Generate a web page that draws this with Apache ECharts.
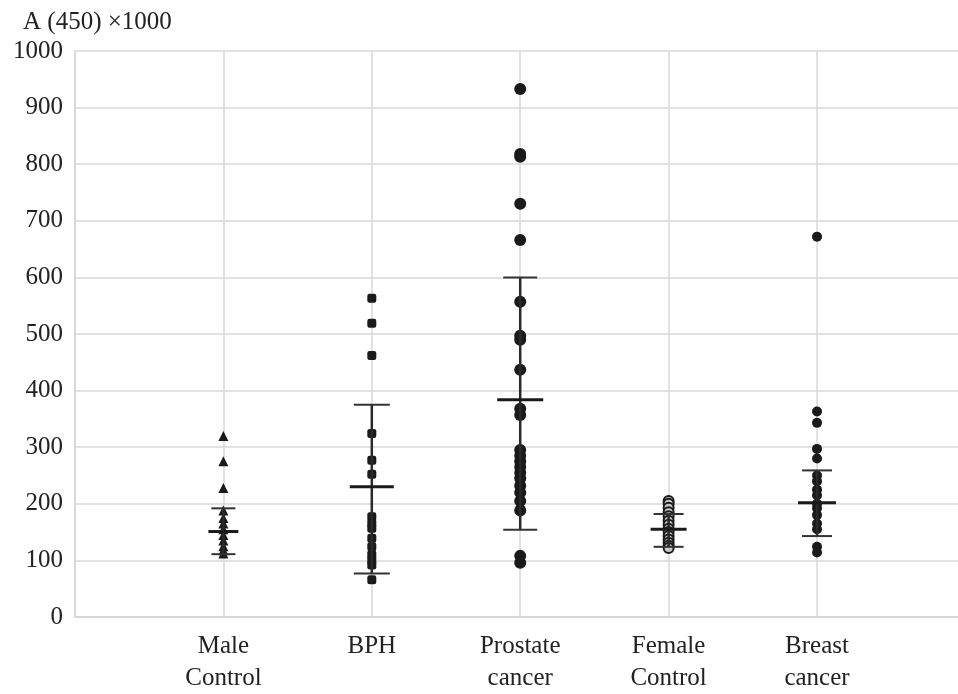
<!DOCTYPE html>
<html>
<head>
<meta charset="utf-8">
<script src="https://cdn.jsdelivr.net/npm/echarts@6/dist/echarts.min.js"></script>
<style>html,body{margin:0;padding:0;background:#fff}#c{width:958px;height:694px}</style>
</head>
<body>
<div id="c"></div>
<script>
// ---- data ----
const categories = ["Male\nControl", "BPH", "Prostate\ncancer", "Female\nControl", "Breast\ncancer"];
const yTicks = [0, 100, 200, 300, 400, 500, 600, 700, 800, 900, 1000];
const maleControl = [320, 275, 228, 188, 175, 165, 155, 145, 135, 125, 118, 112];
const bph = [563, 519, 462, 324, 277, 252, 177, 165, 157, 139, 124, 110, 100, 92, 66];
const prostateCancer = [933, 818, 813, 730, 666, 557, 497, 490, 437, 368, 357, 295, 285, 275, 265, 255, 245, 232, 220, 205, 188, 108, 96];
const femaleControl = [205, 200, 193, 185, 178, 170, 163, 156, 150, 143, 137, 131, 126, 122];
const breastCancer = [672, 363, 343, 297, 280, 250, 240, 225, 215, 200, 192, 180, 165, 155, 124, 114];
const means = [151, 230, 384, 155, 202];
const lows  = [111, 77, 154, 124, 143];
const highs = [192, 375, 600, 182, 259];

// ---- styles ----
const meanHalf = [15, 22, 23, 18, 19];
const capHalf  = [12, 18, 17, 15, 15];
const ink = '#1a1a1a';
const font = '"Liberation Serif", "Times New Roman", serif';
const fs = 25;

function pts(arr, idx) { return arr.map(v => [idx + 1, v]); }

const chart = echarts.init(document.getElementById('c'), null, {renderer: 'canvas'});
chart.setOption({
  animation: false,
  backgroundColor: '#fff',
  title: {
    text: 'A (450) \u00d71000', left: 18, top: 5,
    textStyle: {fontFamily: font, fontSize: fs, fontWeight: 'normal', color: '#222'}
  },
  grid: {left: 75, top: 51, right: 0, bottom: 75, containLabel: false},
  xAxis: {
    type: 'value', min: 0, max: 5.95, interval: 1,
    axisLine: {show: true, lineStyle: {color: '#d4d4d4', width: 1.5}},
    axisTick: {show: false},
    splitLine: {show: true, showMaxLine: false, lineStyle: {color: '#d9d9d9', width: 1.5}},
    axisLabel: {
      fontFamily: font, fontSize: fs, color: '#222', lineHeight: 32, margin: 13,
      showMaxLabel: false,
      formatter: v => (v >= 1 && v <= 5 && Number.isInteger(v)) ? categories[v - 1] : ''
    }
  },
  yAxis: {
    type: 'value', min: yTicks[0], max: yTicks[yTicks.length - 1], interval: 100,
    axisLine: {show: true, lineStyle: {color: '#d4d4d4', width: 1.5}},
    axisTick: {show: false},
    splitLine: {show: true, lineStyle: {color: '#d9d9d9', width: 1.5}},
    axisLabel: {fontFamily: font, fontSize: fs, color: '#222', margin: 12,
      formatter: v => String(v)}
  },
  series: [
    {type: 'scatter', data: pts(maleControl, 0), symbol: 'triangle', symbolSize: 10,
     itemStyle: {color: ink, opacity: 1}, z: 3},
    {type: 'scatter', data: pts(bph, 1), symbol: 'roundRect', symbolSize: 9,
     itemStyle: {color: ink, opacity: 1}, z: 3},
    {type: 'scatter', data: pts(prostateCancer, 2), symbol: 'circle', symbolSize: 12,
     itemStyle: {color: ink, opacity: 1}, z: 3},
    {type: 'scatter', data: pts(femaleControl, 3), symbol: 'circle', symbolSize: 10,
     itemStyle: {color: '#c8c8c8', borderColor: ink, borderWidth: 2, opacity: 1}, z: 3},
    {type: 'scatter', data: pts(breastCancer, 4), symbol: 'circle', symbolSize: 10,
     itemStyle: {color: ink, opacity: 1}, z: 3},
    {
      type: 'custom', z: 4,
      data: means.map((m, i) => [i + 1, m, lows[i], highs[i]]),
      renderItem: function (params, api) {
        const i = params.dataIndex;
        const x = api.value(0);
        const pm = api.coord([x, api.value(1)]);
        const pl = api.coord([x, api.value(2)]);
        const ph = api.coord([x, api.value(3)]);
        const st = {stroke: '#2a2a2a', lineWidth: 2.5};
        return {
          type: 'group',
          children: [
            {type: 'line', shape: {x1: pl[0], y1: pl[1], x2: ph[0], y2: ph[1]}, style: st},
            {type: 'line', shape: {x1: pl[0] - capHalf[i], y1: pl[1], x2: pl[0] + capHalf[i], y2: pl[1]}, style: {stroke: '#333', lineWidth: 2}},
            {type: 'line', shape: {x1: ph[0] - capHalf[i], y1: ph[1], x2: ph[0] + capHalf[i], y2: ph[1]}, style: {stroke: '#333', lineWidth: 2}},
            {type: 'line', shape: {x1: pm[0] - meanHalf[i], y1: pm[1], x2: pm[0] + meanHalf[i], y2: pm[1]}, style: {stroke: '#1a1a1a', lineWidth: 3}}
          ]
        };
      }
    }
  ]
});
</script>
</body>
</html>
